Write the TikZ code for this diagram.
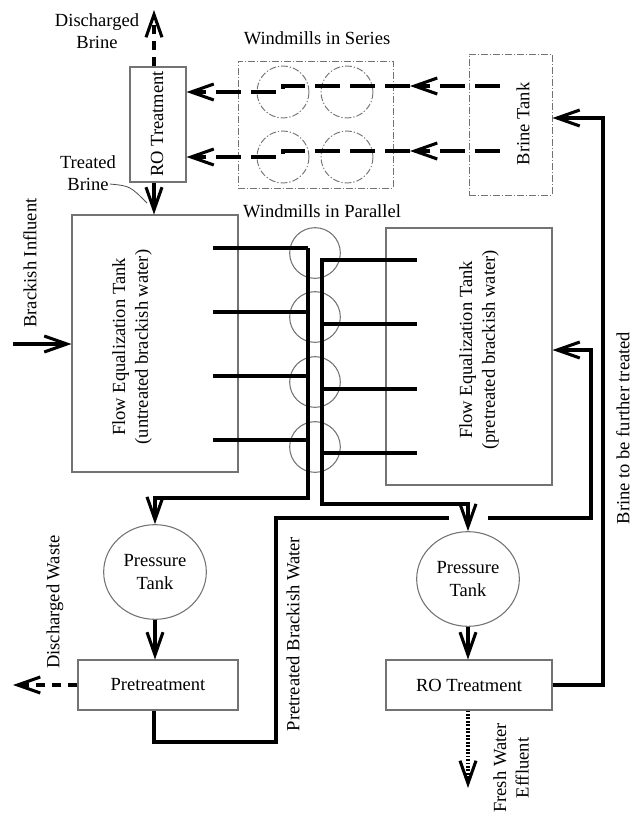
\documentclass[tikz,border=0pt]{standalone}
\usepackage{fontspec}
\setmainfont{Liberation Serif}
\usetikzlibrary{arrows.meta,shapes.geometric}
\begin{document}
\begin{tikzpicture}[x=0.75pt,y=-0.75pt,
  font=\fontsize{13.9}{17}\selectfont,
  box/.style={draw=black!55, line width=0.8pt, inner sep=0pt},
  dbox/.style={draw=black!55, line width=0.7pt, dash pattern=on 5pt off 1.5pt on 1pt off 1.5pt, inner sep=0pt},
  pipe/.style={line width=2.3pt, black},
  arr/.style={-{Straight Barb[length=17pt,width=12pt]}},
  dashpipe/.style={pipe, dash pattern=on 7pt off 5pt},
  serline/.style={pipe, dash pattern=on 18.75pt off 7.5pt},
  dotpipe/.style={pipe, dash pattern=on 1.4pt off 1.2pt},
  lbl/.style={inner sep=0pt, align=center},
  leader/.style={draw=black!70, line width=0.6pt},
]
\useasboundingbox (0,0) rectangle (634,814);

% ---- boxes ----
\node[box, minimum width=42pt, minimum height=86.25pt] (ROt) at (158,124.5) {};
\node[dbox, minimum width=116.25pt, minimum height=95.25pt] (ser) at (315.5,124.5) {};
\node[dbox, minimum width=62.25pt, minimum height=105.75pt] (bt) at (510.5,124.5) {};
\node[box, minimum width=124.5pt, minimum height=192.75pt] (ut) at (155,343.5) {};
\node[box, minimum width=124.5pt, minimum height=192.75pt] (pt) at (469,356.5) {};
\node[box, minimum width=120pt, minimum height=37.5pt] (pre) at (158,685) {Pretreatment};
\node[box, minimum width=124.5pt, minimum height=37.5pt] (rob) at (469,685) {RO Treatment};
\node[box, ellipse, minimum width=77pt, minimum height=71pt, align=center] (ptl) at (155,572) {Pressure\\Tank};
\node[box, ellipse, minimum width=77pt, minimum height=71pt, align=center] (ptr) at (468,579) {Pressure\\Tank};

% ---- windmills in series ----
\node[dbox, circle, minimum size=39pt] (w1) at (283,92) {};
\node[dbox, circle, minimum size=39pt] (w2) at (347,92) {};
\node[dbox, circle, minimum size=39pt] (w3) at (283,157) {};
\node[dbox, circle, minimum size=39pt] (w4) at (347,157) {};

% ---- windmills in parallel ----
\node[box, circle, minimum size=38pt] (p1) at (315,253) {};
\node[box, circle, minimum size=38pt] (p2) at (315,317) {};
\node[box, circle, minimum size=38pt] (p3) at (315,382) {};
\node[box, circle, minimum size=38pt] (p4) at (315,447) {};

% ---- labels ----
\node[lbl] (dbl) at (97,31) {Discharged\\Brine};
\node[lbl] (wsl) at (317,38) {Windmills in Series};
\node[lbl] (wpl) at (322,211) {Windmills in Parallel};
\node[lbl] (tbl) at (88,173) {Treated\\Brine};
\node[lbl, rotate=90] (bil) at (30,263) {Brackish Influent};
\node[lbl, rotate=90] (rotl) at (157,124) {RO Treatment};
\node[lbl, rotate=90] (btl) at (523,124) {Brine Tank};
\node[lbl, rotate=90] (utl) at (132,347) {Flow Equalization Tank\\(untreated brackish water)};
\node[lbl, rotate=90] (ptlb) at (479,350) {Flow Equalization Tank\\(pretreated brackish water)};
\node[lbl, rotate=90] (dwl) at (55,602) {Discharged Waste};
\node[lbl, rotate=90] (pbl) at (293,634) {Pretreated Brackish Water};
\node[lbl, rotate=90] (bfl) at (623,428) {Brine to be further treated};
\node[lbl, rotate=90] (fwl) at (511,768) {Fresh Water\\Effluent};

% ---- coordinates ----
\coordinate (dbtip) at (154,10);
\coordinate (cx) at (154,0);
\coordinate (s1a) at (500,86);  \coordinate (s1m) at (410,86);
\coordinate (s1s) at (283,86);  \coordinate (s1e) at (283,92);
\coordinate (s2a) at (500,151); \coordinate (s2m) at (410,151);
\coordinate (s2s) at (283,151); \coordinate (s2e) at (283,157);
\coordinate (bf) at (603,118);
\coordinate (inf) at (13,344);
\coordinate (tbs) at (110,184);
\coordinate (tbe) at (147,203);
\coordinate (lc1) at (213,248); \coordinate (lc2) at (213,312);
\coordinate (lc3) at (213,376); \coordinate (lc4) at (213,440);
\coordinate (lv1) at (308,248); \coordinate (lv2) at (308,312);
\coordinate (lv3) at (308,376); \coordinate (lv4) at (308,440);
\coordinate (lcb) at (308,498);
\coordinate (rv1) at (322,260); \coordinate (rv2) at (322,324);
\coordinate (rv3) at (322,389); \coordinate (rv4) at (322,453);
\coordinate (rh1) at (417,260); \coordinate (rh2) at (417,324);
\coordinate (rh3) at (417,389); \coordinate (rh4) at (417,453);
\coordinate (rcb) at (322,504);
\coordinate (pl1) at (276,742);
\coordinate (gapL) at (449,518);
\coordinate (gapR) at (488,518);
\coordinate (pl3) at (591,350);
\coordinate (dw) at (13,685);
\coordinate (fw) at (468,788);

% ---- connectors ----
\draw[dashpipe, arr] (ROt.north -| dbtip) -- (dbtip);
\draw[pipe, arr] (ROt.south -| cx) -- (ut.north -| cx);
\draw[leader] (tbs) .. controls (130,186) .. (tbe);

\draw[serline, arr] (s1a) -- (s1m);
\draw[serline, arr] (s1m) -- (s1s) -- (s1e) -- (ROt.east |- s1e);
\draw[serline, arr] (s2a) -- (s2m);
\draw[serline, arr] (s2m) -- (s2s) -- (s2e) -- (ROt.east |- s2e);

\draw[pipe, arr] (rob.east) -| (bf) -- (bt.east |- bf);
\draw[pipe, arr] (inf) -- (ut.west |- inf);

\draw[pipe] (lc1) -- (lv1);
\draw[pipe] (lc2) -- (lv2);
\draw[pipe] (lc3) -- (lv3);
\draw[pipe] (lc4) -- (lv4);
\draw[pipe, arr] (lv1) -- (lcb) -| (ptl.north);

\draw[pipe] (rv1) -- (rh1);
\draw[pipe] (rv2) -- (rh2);
\draw[pipe] (rv3) -- (rh3);
\draw[pipe] (rv4) -- (rh4);
\draw[pipe, arr] (rh1) -- (rv1) -- (rcb) -| (ptr.north);

\draw[pipe] (pre.south -| cx) |- (pl1) |- (gapL);
\draw[pipe, arr] (gapR) -| (pl3) -- (pt.east |- pl3);

\draw[pipe, arr] (ptl.south) -- (ptl.south |- pre.north);
\draw[pipe, arr] (ptr.south) -- (ptr.south |- rob.north);
\draw[dashpipe, arr] (pre.west) -- (dw);
\draw[dotpipe, arr] (rob.south -| fw) -- (fw);

\end{tikzpicture}
\end{document}
